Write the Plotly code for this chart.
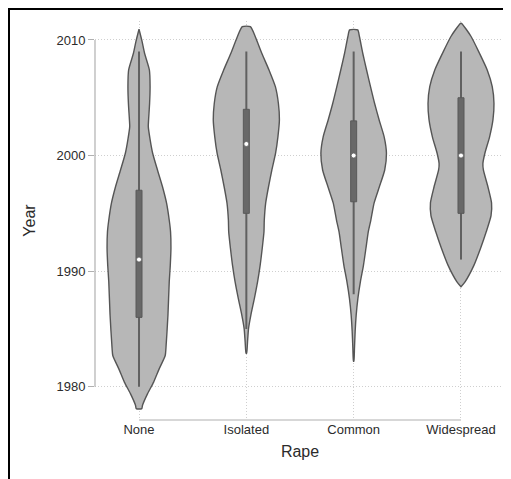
import plotly.graph_objects as go

# ---------------- data ----------------
categories = ["None", "Isolated", "Common", "Widespread"]
y_ticks = [1980, 1990, 2000, 2010]

# violin outlines: year and half-width (relative density, max ~1)
none_year = [2010.93, 2009.9, 2008.85, 2007.4, 2005.96, 2004.5, 2003.1, 2002.5, 2001.4, 2000.2,
             1998.75, 1997.3, 1995.9, 1994.4, 1993.4, 1992.0, 1990.5, 1989.1, 1986.2, 1983.3,
             1982.7, 1981.5, 1980.4, 1979.4, 1978.4, 1978.1]
none_dens = [0.0, 0.09, 0.167, 0.312, 0.333, 0.318, 0.288, 0.279, 0.333, 0.41,
             0.555, 0.706, 0.827, 0.909, 0.948, 0.96, 0.94, 0.909, 0.87, 0.809,
             0.788, 0.6, 0.44, 0.258, 0.106, 0.082]

iso_year = [2011.15, 2010.3, 2008.85, 2007.4, 2005.96, 2004.5, 2003.1, 2001.6, 2000.2, 1998.75,
            1997.3, 1995.9, 1994.4, 1993.4, 1992.0, 1990.5, 1989.1, 1987.65, 1986.2, 1985.05,
            1983.9, 1982.9]
iso_dens = [0.121, 0.267, 0.464, 0.682, 0.873, 0.964, 0.994, 0.948, 0.879, 0.767,
            0.667, 0.582, 0.539, 0.53, 0.479, 0.415, 0.339, 0.242, 0.136, 0.067,
            0.036, 0.009]

com_year = [2010.87, 2010.3, 2008.85, 2007.4, 2005.96, 2004.5, 2003.1, 2001.6, 2000.2, 1998.75,
            1997.3, 1995.9, 1994.4, 1993.4, 1992.0, 1990.5, 1989.1, 1987.65, 1986.2, 1984.8,
            1983.3, 1982.2]
com_dens = [0.121, 0.173, 0.273, 0.388, 0.506, 0.63, 0.764, 0.918, 0.985, 0.933,
            0.773, 0.615, 0.515, 0.439, 0.37, 0.294, 0.203, 0.127, 0.076, 0.045,
            0.024, 0.006]

wide_year = [2011.44, 2010.3, 2008.85, 2007.4, 2005.96, 2004.5, 2003.1, 2001.6, 2000.2, 1999.3,
             1998.75, 1997.3, 1995.9, 1994.8, 1993.4, 1992.0, 1990.5, 1989.1, 1988.65]
wide_dens = [0.015, 0.303, 0.555, 0.788, 0.939, 0.991, 0.961, 0.858, 0.718, 0.658,
             0.673, 0.809, 0.918, 0.903, 0.758, 0.591, 0.388, 0.127, 0.0]

violin_years = [none_year, iso_year, com_year, wide_year]
violin_dens = [none_dens, iso_dens, com_dens, wide_dens]

# box statistics
q1 = [1986, 1995, 1996, 1995]
median = [1991, 2001, 2000, 2000]
q3 = [1997, 2004, 2003, 2005]
lower_adj = [1980, 1985, 1988, 1991]
upper_adj = [2009, 2009, 2009, 2009]

# ---------------- styling / layout constants ----------------
W, H = 511, 479
ML, MR, MT, MB = 87, 14, 13, 67
XR = [-0.41, 3.41]
YR = [1977.12, 2011.64]
MAXHALF = 0.31          # half-width (category units) for density 1
BOXHALF = 0.028         # half-width of the inner box (category units)

VFILL = "#b7b7b7"
VLINE = "#555555"
BOXC = "#686868"
WHISK = "#606060"
TXT = "#2b2b2b"
AXC = "#b0b0b0"
GRID = "#cfcfcf"

fig = go.Figure()

for i, (ys, ds) in enumerate(zip(violin_years, violin_dens)):
    right_x = [i + d * MAXHALF for d in ds]
    left_x = [i - d * MAXHALF for d in ds][::-1]
    xs = right_x + left_x + [right_x[0]]
    yy = list(ys) + list(ys)[::-1] + [ys[0]]
    fig.add_trace(go.Scatter(
        x=xs, y=yy, mode="lines", fill="toself", fillcolor=VFILL,
        line=dict(color=VLINE, width=1.4, shape="spline", smoothing=0.6),
        hoverinfo="skip", showlegend=False))

# whiskers (adjacent values)
wx, wy = [], []
for i in range(len(categories)):
    wx += [i, i, None]
    wy += [lower_adj[i], upper_adj[i], None]
fig.add_trace(go.Scatter(x=wx, y=wy, mode="lines",
                         line=dict(color=WHISK, width=2),
                         hoverinfo="skip", showlegend=False))

# inner boxes (interquartile range)
for i in range(len(categories)):
    fig.add_trace(go.Scatter(
        x=[i - BOXHALF, i + BOXHALF, i + BOXHALF, i - BOXHALF, i - BOXHALF],
        y=[q1[i], q1[i], q3[i], q3[i], q1[i]],
        mode="lines", fill="toself", fillcolor=BOXC,
        line=dict(color="#595959", width=1),
        hoverinfo="skip", showlegend=False))

fig.add_trace(go.Scatter(
    x=list(range(len(categories))), y=median, mode="markers",
    marker=dict(color="white", size=5, line=dict(color="#5e5e5e", width=0.8)),
    hoverinfo="skip", showlegend=False))

# partial axis lines (Stata style) spanning the tick ranges
fig.add_shape(type="line", xref="paper", yref="y", x0=0, x1=0,
              y0=min(y_ticks), y1=max(y_ticks), line=dict(color=AXC, width=1.2))
fig.add_shape(type="line", xref="x", yref="paper", x0=0, x1=len(categories) - 1,
              y0=0, y1=0, line=dict(color=AXC, width=1.2))

# outer black frame (top & left edges visible)
pw = W - ML - MR
ph = H - MT - MB
def px_to_paper_x(px):
    return (px - ML) / pw
def px_to_paper_y(py):
    return (H - MB - py) / ph
fig.add_shape(type="rect", xref="paper", yref="paper",
              x0=px_to_paper_x(1), x1=px_to_paper_x(W + 20),
              y0=px_to_paper_y(H + 20), y1=px_to_paper_y(1),
              line=dict(color="black", width=2), fillcolor="rgba(0,0,0,0)", layer="above")

fig.update_layout(
    width=W, height=H,
    margin=dict(l=ML, r=MR, t=MT, b=MB, autoexpand=False),
    paper_bgcolor="white", plot_bgcolor="white",
    font=dict(family="Liberation Sans, Arial, sans-serif", color=TXT, size=13),
    xaxis=dict(range=XR, tickmode="array", tickvals=list(range(len(categories))),
               ticktext=categories, showline=False, zeroline=False,
               showgrid=True, gridcolor=GRID, griddash="1px,2px", gridwidth=1,
               ticks="", tickfont=dict(size=13, color=TXT),
               title=dict(text="Rape", font=dict(size=16, color=TXT), standoff=9)),
    yaxis=dict(range=YR, tickmode="array", tickvals=y_ticks,
               showline=False, zeroline=False,
               showgrid=True, gridcolor=GRID, griddash="1px,2px", gridwidth=1,
               ticks="outside", ticklen=6, tickcolor=AXC, tickwidth=1.2,
               tickfont=dict(size=13, color=TXT),
               title=dict(text="Year", font=dict(size=16, color=TXT), standoff=16)),
)

fig.write_html("out.html")
